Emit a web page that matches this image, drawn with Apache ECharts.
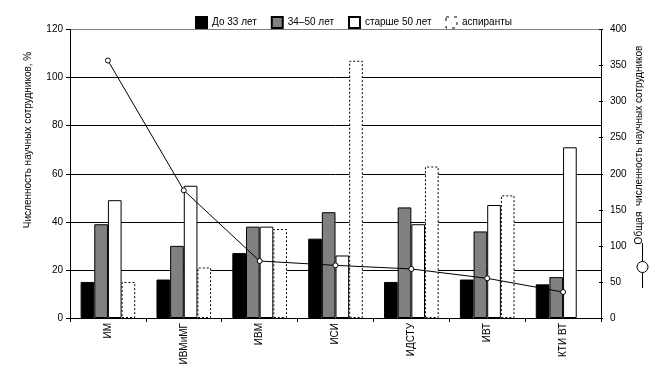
<!DOCTYPE html>
<html><head><meta charset="utf-8">
<script src="https://cdn.jsdelivr.net/npm/echarts@6/dist/echarts.min.js"></script>
<style>html,body{margin:0;padding:0;background:#fff}#c{width:664px;height:379px}</style>
</head><body><div id="c"></div>
<script>
var categories = ['ИМ','ИВМиМГ','ИВМ','ИСИ','ИДСТУ','ИВТ','КТИ ВТ'];
var under33 = [15, 16, 27, 33, 15, 16, 14];
var age34to50 = [39, 30, 38, 44, 46, 36, 17];
var over50 = [49, 55, 38, 26, 39, 47, 71];
var aspirants = [15, 21, 37, 107, 63, 51, null];
var totalStaff = [357, 177, 79, 73, 68, 55, 36];
var leftTicks = [0, 20, 40, 60, 80, 100, 120];
var rightTicks = [0, 50, 100, 150, 200, 250, 300, 350, 400];
var seriesNames = ['До 33 лет', '34–50 лет', 'старше 50 лет', 'аспиранты'];
var leftName = 'Численность научных сотрудников, %';
var rightName = 'Общая  численность научных сотрудников';

var FONT = 'Liberation Sans, Arial, sans-serif';
var chart = echarts.init(document.getElementById('c'), null, {renderer: 'canvas'});
function bar(name, data, color, dashed) {
  return {
    name: name, type: 'bar', data: data, barGap: '0%', barCategoryGap: '28%',
    itemStyle: {color: color, borderColor: '#000', borderWidth: 1, borderType: dashed ? [2, 2] : 'solid'},
    emphasis: {disabled: true}, z: 2
  };
}
chart.setOption({
  animation: false,
  backgroundColor: '#fff',
  textStyle: {fontFamily: FONT, color: '#000'},
  grid: {left: 70, right: 63, top: 29.5, bottom: 61, containLabel: false},
  legend: {
    data: [
      {name: seriesNames[0]},
      {name: seriesNames[1]},
      {name: seriesNames[2]},
      {name: seriesNames[3], itemStyle: {color: '#fff', borderColor: '#000', borderWidth: 1, borderType: [3, 5]}}
    ],
    left: 190, top: 11, itemWidth: 11, itemHeight: 11, itemGap: 14,
    textStyle: {fontFamily: FONT, fontSize: 10, color: '#000'}, icon: 'rect'
  },
  xAxis: {
    type: 'category', data: categories, boundaryGap: true,
    axisLine: {lineStyle: {color: '#000', width: 1}},
    axisTick: {show: true, length: 4, lineStyle: {color: '#000'}},
    axisLabel: {rotate: 90, fontSize: 10, color: '#000', margin: 5, fontFamily: FONT}
  },
  yAxis: [{
    type: 'value', min: leftTicks[0], max: leftTicks[leftTicks.length - 1], interval: 20,
    axisLine: {show: true, lineStyle: {color: '#000'}},
    axisTick: {show: true, length: 4, lineStyle: {color: '#000'}},
    axisLabel: {fontSize: 10, color: '#000', margin: 7, fontFamily: FONT},
    splitLine: {show: true, lineStyle: {color: ['#000', '#000', '#000', '#000', '#000', '#000', '#808080'], width: 1}}
  }, {
    type: 'value', position: 'right', min: rightTicks[0], max: rightTicks[rightTicks.length - 1], interval: 50,
    axisLine: {show: true, lineStyle: {color: '#000'}},
    axisTick: {show: true, length: 2, lineStyle: {color: '#000'}},
    axisLabel: {fontSize: 10, color: '#000', margin: 9, fontFamily: FONT},
    splitLine: {show: false}
  }, {
    type: 'value', position: 'right', min: rightTicks[0], max: rightTicks[rightTicks.length - 1], interval: 50,
    axisLine: {show: false},
    axisTick: {show: true, inside: true, length: 2, lineStyle: {color: '#000'}},
    axisLabel: {show: false},
    splitLine: {show: false}
  }],
  series: [
    bar(seriesNames[0], under33, '#000', false),
    bar(seriesNames[1], age34to50, '#808080', false),
    bar(seriesNames[2], over50, '#fff', false),
    bar(seriesNames[3], aspirants, '#fff', true),
    {
      name: 'total', type: 'line', yAxisIndex: 1, data: totalStaff, z: 5,
      lineStyle: {color: '#000', width: 1}, symbol: 'circle', symbolSize: 5,
      itemStyle: {color: '#fff', borderColor: '#000', borderWidth: 1},
      emphasis: {disabled: true}
    }
  ],
  graphic: [
    {type: 'text', x: 28, y: 140, rotation: Math.PI / 2,
     style: {text: leftName, font: '10px ' + FONT, fill: '#000', align: 'center', verticalAlign: 'middle'}},
    {type: 'text', x: 639, y: 145, rotation: Math.PI / 2,
     style: {text: rightName, font: '10px ' + FONT, fill: '#000', align: 'center', verticalAlign: 'middle'}},
    {type: 'line', shape: {x1: 642.5, y1: 243, x2: 642.5, y2: 288}, style: {stroke: '#000', lineWidth: 1}},
    {type: 'circle', shape: {cx: 642.5, cy: 267, r: 5.5}, style: {fill: '#fff', stroke: '#000', lineWidth: 1}}
  ]
});
</script></body></html>
